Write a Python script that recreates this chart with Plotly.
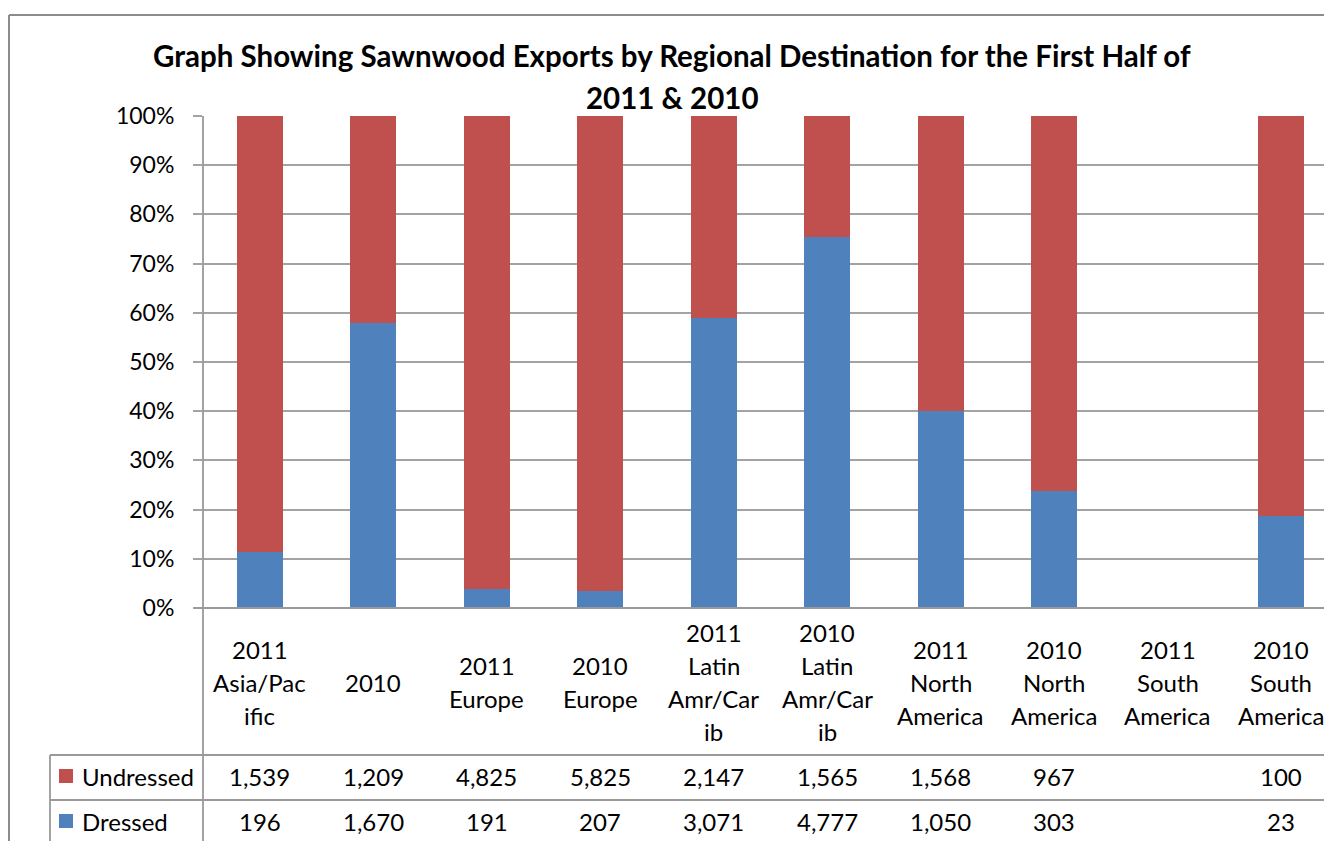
import plotly.graph_objects as go

# Sawnwood exports (first half of year), by destination and year
categories = [
    "2011<br>Asia/Pac<br>ific", "2010", "2011<br>Europe", "2010<br>Europe",
    "2011<br>Latin<br>Amr/Car<br>ib", "2010<br>Latin<br>Amr/Car<br>ib",
    "2011<br>North<br>America", "2010<br>North<br>America",
    "2011<br>South<br>America", "2010<br>South<br>America",
]
undressed = [1539, 1209, 4825, 5825, 2147, 1565, 1568, 967, None, 100]
dressed = [196, 1670, 191, 207, 3071, 4777, 1050, 303, None, 23]
y_ticks = [0, 10, 20, 30, 40, 50, 60, 70, 80, 90, 100]
y_tick_labels = ["0%", "10%", "20%", "30%", "40%", "50%", "60%", "70%", "80%", "90%", "100%"]

title_lines = [
    "Graph Showing Sawnwood Exports by Regional Destination for the First Half of",
    "2011 & 2010",
]

RED = "#C0504D"
BLUE = "#4F81BD"
GRID = "#A3A3A3"
TABLE = "#999999"
FONT = "Lato"
TXT = 24

W, H = 1324, 841
L, T, B = 203, 116, 608  # plot-area edges in pixels


def px(x):
    return (x - L) / (W - L)


def py(y):
    return (B - y) / (B - T)


slot = 113.5
x_max = -0.5 + (W - L) / slot

fig = go.Figure()
fig.add_trace(go.Bar(x=list(range(len(categories))), y=dressed, name="Dressed",
                     marker=dict(color=BLUE, line=dict(width=0)), width=0.405))
fig.add_trace(go.Bar(x=list(range(len(categories))), y=undressed, name="Undressed",
                     marker=dict(color=RED, line=dict(width=0)), width=0.405))

fig.update_layout(
    width=W, height=H,
    margin=dict(l=L, r=0, t=T, b=H - B, pad=0),
    barmode="stack", barnorm="percent",
    showlegend=False,
    paper_bgcolor="white", plot_bgcolor="white",
    font=dict(family=FONT, color="black", size=TXT),
    xaxis=dict(range=[-0.5, x_max], showticklabels=False, showgrid=False,
               zeroline=False, showline=False, fixedrange=True),
    yaxis=dict(range=[0, 100], tickmode="array", tickvals=y_ticks, ticktext=y_tick_labels,
               showgrid=True, gridcolor=GRID, gridwidth=1.5,
               ticks="outside", ticklen=9, tickcolor=GRID, tickwidth=1.5,
               ticklabelstandoff=14, zeroline=False, showline=False,
               tickfont=dict(size=23, family=FONT)),
)

shapes = []


def hline(y, x0, x1, color=TABLE):
    shapes.append(dict(type="line", xref="paper", yref="paper",
                       x0=px(x0), x1=px(x1), y0=py(y), y1=py(y),
                       line=dict(color=color, width=1.8)))


def vline(x, y0, y1, color=TABLE):
    shapes.append(dict(type="line", xref="paper", yref="paper",
                       x0=px(x), x1=px(x), y0=py(y0), y1=py(y1),
                       line=dict(color=color, width=1.8)))


# axis lines and data-table grid
vline(L, T, H + 5)
hline(B, L - 9, W + 5)
hline(755, 50, W + 5)
hline(800, 50, W + 5)
vline(50, 755, H + 5)

# outer chart border
shapes.append(dict(type="line", xref="paper", yref="paper",
                   x0=px(9), x1=px(9), y0=py(15), y1=py(H + 10),
                   line=dict(color="#8C8C8C", width=2)))
shapes.append(dict(type="line", xref="paper", yref="paper",
                   x0=px(9), x1=px(W + 10), y0=py(15), y1=py(15),
                   line=dict(color="#8C8C8C", width=2)))

# legend keys inside the data table
for color, yc in [(RED, 776), (BLUE, 821)]:
    shapes.append(dict(type="rect", xref="paper", yref="paper",
                       x0=px(59), x1=px(73), y0=py(yc - 7), y1=py(yc + 7),
                       fillcolor=color, line=dict(width=0)))

annotations = []

# title
for i, line in enumerate(title_lines):
    annotations.append(dict(text=f"<b>{line}</b>", xref="paper", yref="paper",
                            x=px(672), y=py(56 + 41 * i), xanchor="center",
                            yanchor="middle", showarrow=False,
                            font=dict(size=29.5, family=FONT)))

# category labels (wrapped, centred vertically in the label band)
for i, cat in enumerate(categories):
    parts = cat.split("<br>")
    n = len(parts)
    for k, part in enumerate(parts):
        yc = 682 + (k - (n - 1) / 2) * 33
        annotations.append(dict(text=part, xref="x", yref="paper", x=i, y=py(yc),
                                xanchor="center", yanchor="middle", showarrow=False,
                                font=dict(size=TXT, family=FONT)))

# data table rows
for name, vals, yc in [("Undressed", undressed, 776), ("Dressed", dressed, 821)]:
    annotations.append(dict(text=name, xref="paper", yref="paper", x=px(80), y=py(yc),
                            xanchor="left", yanchor="middle", showarrow=False,
                            font=dict(size=TXT, family=FONT)))
    for i, v in enumerate(vals):
        if v is None:
            continue
        annotations.append(dict(text=f"{v:,}", xref="x", yref="paper", x=i, y=py(yc),
                                xanchor="center", yanchor="middle", showarrow=False,
                                font=dict(size=TXT, family=FONT)))

fig.update_layout(shapes=shapes, annotations=annotations)
fig.write_html("out.html")
